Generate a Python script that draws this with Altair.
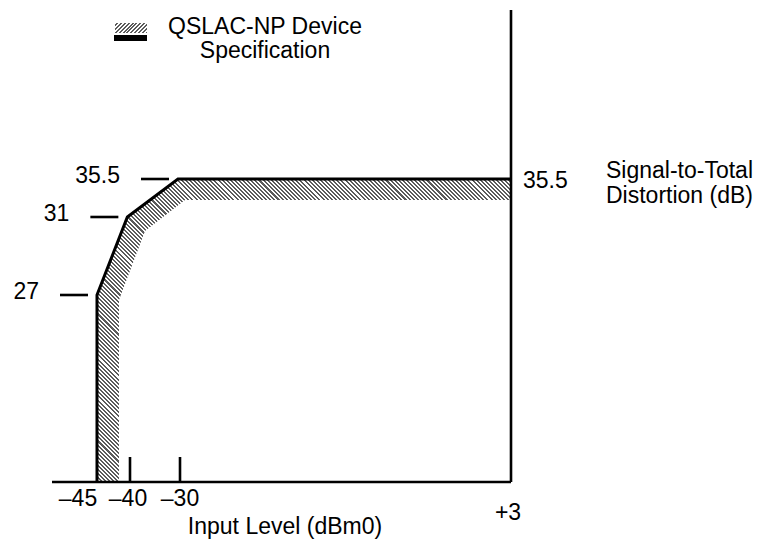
import numpy as np
import pandas as pd
import altair as alt

# ---- schematic (piecewise-linear) scales ----
X_DOMAIN = [-50, -45, -40, -30, 3]
X_RANGE = [0, 45, 78, 128, 459]
Y_DOMAIN = [20, 27, 31, 35.5, 45]
Y_RANGE = [472, 285, 207, 169, 0]
W, H = 459, 472

# ---- data ----
outer_x = [-45, -45, -40.4, -30.4, 3]
outer_y = [20, 27, 31, 35.5, 35.5]
inner_x = [3, -29.5, -37.0, -41.67, -41.67]
inner_y = [33.0, 33.0, 30.28, 26.81, 20]

x_ticks = [-45, -40, -30, 3]
x_tick_labels = ["–45", "–40", "–30", "+3"]
y_ticks = [27, 31, 35.5]
y_tick_labels = ["27", "31", "35.5"]
right_tick = 35.5
right_tick_label = "35.5"
x_title = "Input Level (dBm0)"
y_title = ["Signal-to-Total", "Distortion (dB)"]
legend_label = ["QSLAC-NP Device", "Specification"]

FONT = "Liberation Sans"
FS = 23

XS = alt.Scale(domain=X_DOMAIN, range=X_RANGE, zero=False, nice=False)
YS = alt.Scale(domain=Y_DOMAIN, range=Y_RANGE, zero=False, nice=False)


def hatch(w, h, d, period, dark, light, duty):
    dx, dy = d
    v = np.array([dy / h, -dx / w])
    corners = np.array([[0, 0], [1, 0], [0, 1], [1, 1]], dtype=float)
    t = corners @ v
    p1 = corners[np.argmin(t)]
    span = t.max() - t.min()
    p2 = p1 + v * span / (v @ v)
    n = np.array([dy, -dx]) / np.hypot(dx, dy)
    s = (corners * np.array([w, h])) @ n
    extent = s.max() - s.min()
    N = max(1, int(round(extent / period)))
    stops = []
    for k in range(N):
        a, b, c = k / N, (k + duty) / N, (k + 1) / N
        stops += [(a, dark), (b, dark), (b, light), (c, light)]
    return {
        "gradient": "linear",
        "x1": float(p1[0]), "y1": float(p1[1]),
        "x2": float(p2[0]), "y2": float(p2[1]),
        "stops": [{"offset": round(o, 5), "color": col} for o, col in stops],
    }


bx = np.interp(outer_x + inner_x, X_DOMAIN, X_RANGE)
by = np.interp(outer_y + inner_y, Y_DOMAIN, Y_RANGE[::1]) if False else None
# y range is decreasing; interpolate manually
yy = np.array(outer_y + inner_y, dtype=float)
by = np.interp(yy, Y_DOMAIN, Y_RANGE)
band_w = float(bx.max() - bx.min())
band_h = float(by.max() - by.min())

band_grad = hatch(band_w, band_h, (1, 1), 2.9, "#5c5c5c", "#ffffff", 0.5)
legend_grad = hatch(32, 10, (1, -1), 2.6, "#5c5c5c", "#ffffff", 0.5)

one = pd.DataFrame({"a": [0]})


def X(field=None, datum=None):
    if datum is not None:
        return alt.X(datum=datum, type="quantitative", scale=XS, axis=None)
    return alt.X(field, type="quantitative", scale=XS, axis=None)


def Y(field=None, datum=None):
    if datum is not None:
        return alt.Y(datum=datum, type="quantitative", scale=YS, axis=None)
    return alt.Y(field, type="quantitative", scale=YS, axis=None)


layers = []

# hatched band
band_df = pd.DataFrame({"x": outer_x + inner_x, "y": outer_y + inner_y,
                        "i": list(range(len(outer_x) + len(inner_x)))})
layers.append(
    alt.Chart(band_df).mark_line(fill=band_grad, strokeOpacity=0)
    .encode(x=X("x"), y=Y("y"), order=alt.Order("i:Q"))
)

# black outline of the spec limit
out_df = pd.DataFrame({"x": outer_x, "y": outer_y, "i": list(range(len(outer_x)))})
layers.append(
    alt.Chart(out_df).mark_line(color="black", strokeWidth=3, strokeJoin="miter")
    .encode(x=X("x"), y=Y("y"), order=alt.Order("i:Q"))
)

# bottom axis line
layers.append(
    alt.Chart(one).mark_rule(color="black", strokeWidth=2.6)
    .encode(x=X(datum=X_DOMAIN[0]), x2=alt.X2(datum=x_ticks[-1]), y=Y(datum=Y_DOMAIN[0]))
)
# right axis line
layers.append(
    alt.Chart(one).mark_rule(color="black", strokeWidth=2.6)
    .encode(x=X(datum=x_ticks[-1]), y=Y(datum=Y_DOMAIN[0]), y2=alt.Y2(datum=Y_DOMAIN[-1]))
)
# inward ticks at -40 and -30
tick_df = pd.DataFrame({"x": x_ticks[1:3], "y": [Y_DOMAIN[0]] * 2})
layers.append(
    alt.Chart(tick_df).mark_rule(color="black", strokeWidth=2.6)
    .encode(x=X("x"), y=Y("y"), y2=alt.value(H - 25))
)

# left dashes + labels
dash_df = pd.DataFrame({"x": outer_x[1:4], "y": y_ticks, "t": y_tick_labels})
layers.append(
    alt.Chart(dash_df).mark_rule(color="black", strokeWidth=2.6, xOffset=-37, x2Offset=-9)
    .encode(x=X("x"), x2="x:Q", y=Y("y"))
)
layers.append(
    alt.Chart(dash_df).mark_text(font=FONT, fontSize=FS, align="right", baseline="middle",
                                 dx=-58, dy=-3, color="black")
    .encode(x=X("x"), y=Y("y"), text="t:N")
)

# right label
layers.append(
    alt.Chart(one).mark_text(font=FONT, fontSize=FS, align="left", baseline="middle",
                             dx=12, dy=2, color="black")
    .encode(x=X(datum=x_ticks[-1]), y=Y(datum=right_tick), text=alt.value(right_tick_label))
)
# right title
for k, line in enumerate(y_title):
    layers.append(
        alt.Chart(one).mark_text(font=FONT, fontSize=FS, align="left", baseline="middle",
                                 dx=95, color="black")
        .encode(x=X(datum=x_ticks[-1]), y=alt.value(161 + 25 * k), text=alt.value(line))
    )

# bottom tick labels
x_dx = [-19, -2, 0, -3]
x_py = [489, 489, 489, 503]
for v, lab, ddx, py in zip(x_ticks, x_tick_labels, x_dx, x_py):
    layers.append(
        alt.Chart(one).mark_text(font=FONT, fontSize=FS, align="center", baseline="middle",
                                 dx=ddx, color="black")
        .encode(x=X(datum=v), y=alt.value(py), text=alt.value(lab))
    )
# bottom title
layers.append(
    alt.Chart(one).mark_text(font=FONT, fontSize=FS, align="center", baseline="middle", color="black")
    .encode(x=alt.value(233), y=alt.value(517), text=alt.value(x_title))
)

# legend
layers.append(
    alt.Chart(one).mark_rect(fill=legend_grad)
    .encode(x=alt.value(63), x2=alt.value(95), y=alt.value(13), y2=alt.value(23))
)
layers.append(
    alt.Chart(one).mark_rect(color="black")
    .encode(x=alt.value(62), x2=alt.value(95), y=alt.value(25), y2=alt.value(31))
)
for k, line in enumerate(legend_label):
    layers.append(
        alt.Chart(one).mark_text(font=FONT, fontSize=FS, align="center", baseline="middle", color="black")
        .encode(x=alt.value(213), y=alt.value(17 + 24 * k), text=alt.value(line))
    )

chart = (
    alt.layer(*layers)
    .properties(width=W, height=H,
                padding={"left": 44, "top": 2, "right": 244, "bottom": 60},
                autosize=alt.AutoSizeParams(type="none"))
    .configure_view(strokeWidth=0)
)

chart.save("out.html", embed_options={"renderer": "svg", "actions": False})
